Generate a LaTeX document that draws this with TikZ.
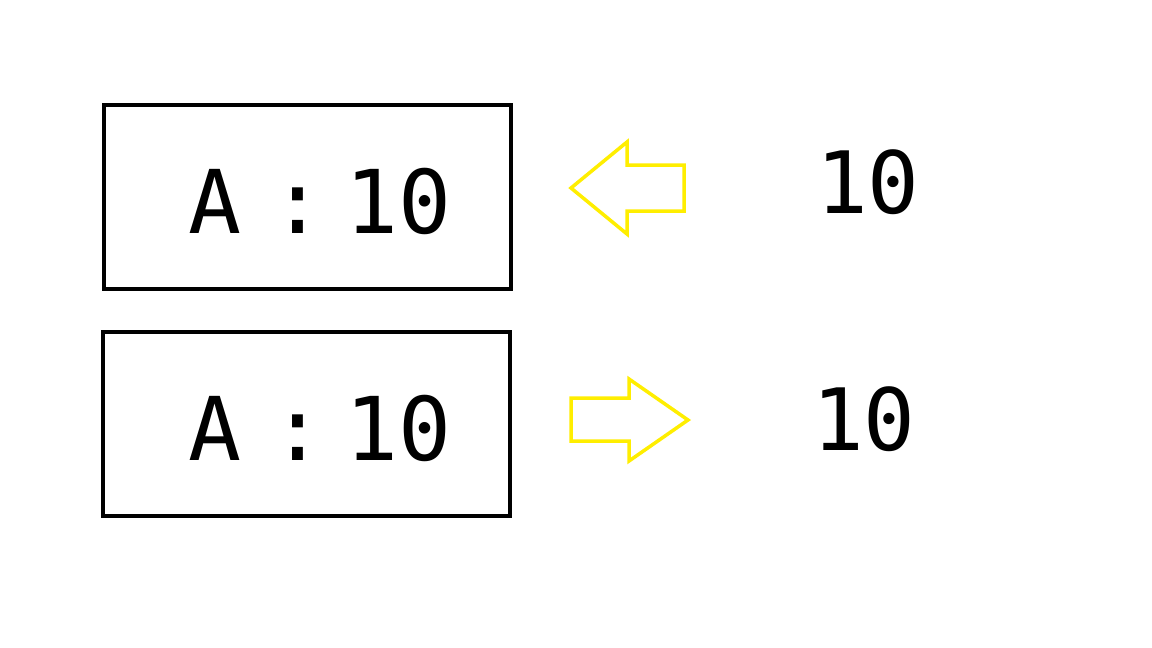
\documentclass[tikz,border=0pt]{standalone}
\usepackage{fontspec}
\newfontfamily\monofont{DejaVu Sans Mono}
\definecolor{arrowyellow}{HTML}{FFEE00}
\tikzset{
  box/.style={draw=black, line width=4.5pt, inner sep=0pt},
  label/.style={font=\monofont\fontsize{88}{100}\selectfont, inner sep=0pt, anchor=base west},
  val/.style={font=\monofont\fontsize{86}{100}\selectfont, inner sep=0pt, anchor=base west},
  yarrow/.style={draw=arrowyellow, line width=3.5pt, line join=miter}
}
\begin{document}
\begin{tikzpicture}[x=1pt,y=-1pt]
\useasboundingbox (0,0) rectangle (1152,648);
\fill[white] (0,0) rectangle (1152,648);
% boxes
\draw[box] (104,105) rectangle (511,289);
\node[label] (t1) at (188,233) {A\hspace{30pt}:\hspace{21pt}10};
\draw[box] (103,332) rectangle (510,516);
\node[label] (t2) at (188,460) {A\hspace{30pt}:\hspace{21pt}10};
% values
\node[val] (v1) at (816,213) {10};
\node[val] (v2) at (812,450) {10};
% arrows
\draw[yarrow] (571,188) -- (627,142) -- (627,165) -- (684,165) -- (684,211) -- (627,211) -- (627,234) -- cycle;
\draw[yarrow] (688,420) -- (629,379) -- (629,398) -- (571,398) -- (571,441) -- (629,441) -- (629,461) -- cycle;
\end{tikzpicture}
\end{document}
